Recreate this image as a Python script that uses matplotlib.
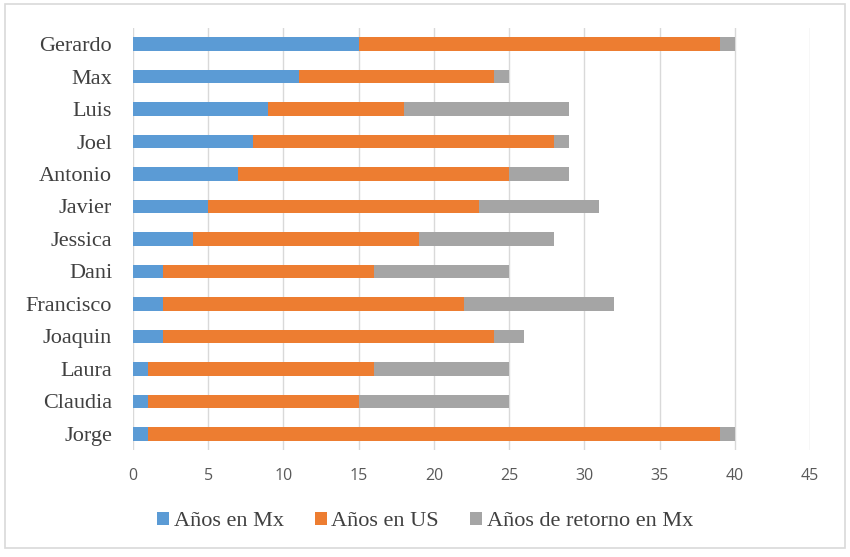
import matplotlib.pyplot as plt
from matplotlib.patches import Rectangle

plt.rcParams["font.family"] = ["Liberation Serif", "DejaVu Serif"]

# Datos del grafico
nombres = ["Jorge", "Claudia", "Laura", "Joaquin", "Francisco", "Dani", "Jessica",
           "Javier", "Antonio", "Joel", "Luis", "Max", "Gerardo"]
anios_mx = [1, 1, 1, 2, 2, 2, 4, 5, 7, 8, 9, 11, 15]
anios_us = [38, 14, 15, 22, 20, 14, 15, 18, 18, 20, 9, 13, 24]
anios_retorno = [1, 10, 9, 2, 10, 9, 9, 8, 4, 1, 11, 1, 1]
ticks_x = [0, 5, 10, 15, 20, 25, 30, 35, 40, 45]

fig = plt.figure(figsize=(8.5, 5.57), dpi=100)
ax = fig.add_axes([0.1565, 0.192, 0.7965, 0.758])

# Barras apiladas
izq_us = anios_mx
izq_ret = [a + b for a, b in zip(anios_mx, anios_us)]
ax.barh(nombres, anios_mx, height=0.42, color="#5B9BD5", label="Años en Mx", zorder=3)
ax.barh(nombres, anios_us, left=izq_us, height=0.42, color="#ED7D31", label="Años en US", zorder=3)
ax.barh(nombres, anios_retorno, left=izq_ret, height=0.42, color="#A5A5A5",
        label="Años de retorno en Mx", zorder=3)

ax.set_xlim(0, 45)
ax.set_ylim(-0.5, len(nombres) - 0.5)
ax.set_xticks(ticks_x)
ax.set_xticklabels([str(v) for v in ticks_x], family=["Open Sans", "DejaVu Sans"],
                   fontsize=11.5, color="#595959")
ax.set_yticks(range(len(nombres)))
ax.set_yticklabels(nombres, fontsize=16, color="#404040")
ax.grid(axis="x", color="#D9D9D9", linewidth=1, zorder=0)
for s in ax.spines.values():
    s.set_visible(False)
ax.tick_params(length=0)
ax.tick_params(axis="x", pad=13)
ax.tick_params(axis="y", pad=15)

leg = fig.legend(loc="center", bbox_to_anchor=(0.5, 0.064), ncol=3, frameon=False,
                 prop={"size": 16},
                 handlelength=0.55, handleheight=0.55, handletextpad=0.2, columnspacing=1.4)
for t in leg.get_texts():
    t.set_color("#404040")

# Borde del area del grafico
fig.patches.append(Rectangle((5 / 850, 1 - 548 / 557), 840 / 850, 544 / 557,
                             transform=fig.transFigure, fill=False,
                             edgecolor="#D9D9D9", linewidth=1.2))

fig.savefig("out.png", dpi=100)
